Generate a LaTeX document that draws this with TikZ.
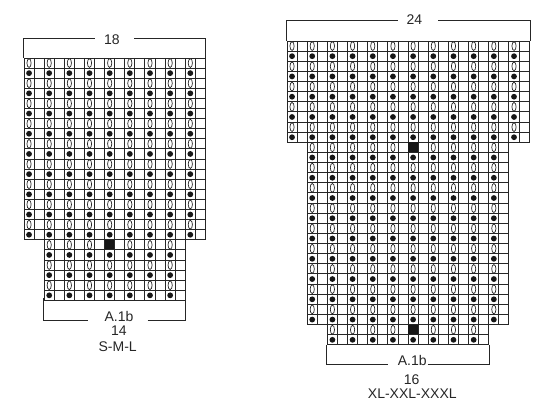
\documentclass[tikz,border=0pt]{standalone}
\usepackage{fontspec}
\setmainfont{Liberation Sans}
\definecolor{gridink}{HTML}{262626}
\definecolor{symink}{HTML}{161616}
\tikzset{
  gridline/.style={draw=gridink,line width=0.98pt},
  bracketline/.style={draw=gridink,line width=0.98pt},
  hole/.style={draw=gridink,line width=0.7pt,fill=white},
  bead/.style={fill=symink},
  blacksq/.style={fill=symink},
  lab/.style={inner sep=0pt,font=\fontsize{14}{14}\selectfont,text=black!85}
}
% #1 x0, #2 y0, #3 cell w, #4 cell h, #5 first col, #6 last col, #7 first row, #8 last row, #9 black-square col
\newcommand{\knitblock}[9]{%
  \foreach \r in {#7,...,#8}{%
    \draw[gridline] ({#1+#5*#3},{#2+\r*#4}) rectangle ({#1+(#6+1)*#3},{#2+(\r+1)*#4});
    \foreach \c in {#5,...,#6}{%
      \draw[gridline] ({#1+\c*#3},{#2+\r*#4}) -- ({#1+\c*#3},{#2+(\r+1)*#4});
      \pgfmathtruncatemacro{\iseven}{int(mod(\c,2))==0}
      \ifnum\iseven=1
        \pgfmathtruncatemacro{\rodd}{int(mod(\r,2))}
        \ifnum\rodd=0
          \ifnum\c=#9
            \ifnum\r=#7
              \fill[blacksq] ({#1+\c*#3},{#2+\r*#4}) rectangle ({#1+(\c+1)*#3},{#2+(\r+1)*#4});
            \else
              \draw[hole] ({#1+(\c+.5)*#3},{#2+(\r+.5)*#4}) ellipse (2.1 and 4.4);
            \fi
          \else
            \draw[hole] ({#1+(\c+.5)*#3},{#2+(\r+.5)*#4}) ellipse (2.1 and 4.4);
          \fi
        \else
          \fill[bead] ({#1+(\c+.5)*#3},{#2+(\r+.5)*#4}) circle (2.9);
        \fi
      \fi
    }%
  }%
}
\begin{document}
\begin{tikzpicture}[x=1pt,y=-1pt]
\useasboundingbox (0,0) rectangle (550,411);
% left chart
\knitblock{24}{58}{10.08}{10.1}{0}{17}{0}{17}{-1}
\knitblock{24}{58}{10.08}{10.1}{2}{15}{18}{23}{8}
% right chart
\knitblock{287}{41}{10.09}{10.13}{0}{23}{0}{9}{-1}
\knitblock{287}{41}{10.09}{10.13}{2}{21}{10}{27}{12}
\knitblock{287}{41}{10.09}{10.13}{4}{19}{28}{29}{12}
% labels
\node[lab] (n18) at (112,39.5) {18};
\node[lab] (nA) at (119,316) {A.1b};
\node[lab] (n14) at (119,331) {14};
\node[lab] (nS) at (117.7,346.7) {S-M-L};
\node[lab] (n24) at (414.3,20) {24};
\node[lab] (nB) at (412.3,360) {A.1b};
\node[lab] (n16) at (411.7,380) {16};
\node[lab] (nX) at (412.3,394) {XL-XXL-XXXL};
% brackets
\coordinate (a1) at (23.7,58); \coordinate (a2) at (23.7,38); \coordinate (a3) at (95,38);
\coordinate (a4) at (134,38); \coordinate (a5) at (205.7,38); \coordinate (a6) at (205.7,58);
\draw[bracketline] (a1) -- (a2) -- (a3) (a4) -- (a5) -- (a6);
\coordinate (b1) at (43,298); \coordinate (b2) at (43,320.7); \coordinate (b3) at (88,320.7);
\coordinate (b4) at (147.7,320.7); \coordinate (b5) at (185.7,320.7); \coordinate (b6) at (185.7,298);
\draw[bracketline] (b1) -- (b2) -- (b3) (b4) -- (b5) -- (b6);
\coordinate (c1) at (286.7,41); \coordinate (c2) at (286.7,20); \coordinate (c3) at (398,20);
\coordinate (c4) at (438,20); \coordinate (c5) at (530,20); \coordinate (c6) at (530,41);
\draw[bracketline] (c1) -- (c2) -- (c3) (c4) -- (c5) -- (c6);
\coordinate (d1) at (326.7,345); \coordinate (d2) at (326.7,364.3); \coordinate (d3) at (387.7,364.3);
\coordinate (d4) at (427.7,364.3); \coordinate (d5) at (489,364.3); \coordinate (d6) at (489,345);
\draw[bracketline] (d1) -- (d2) -- (d3) (d4) -- (d5) -- (d6);
\end{tikzpicture}
\end{document}
